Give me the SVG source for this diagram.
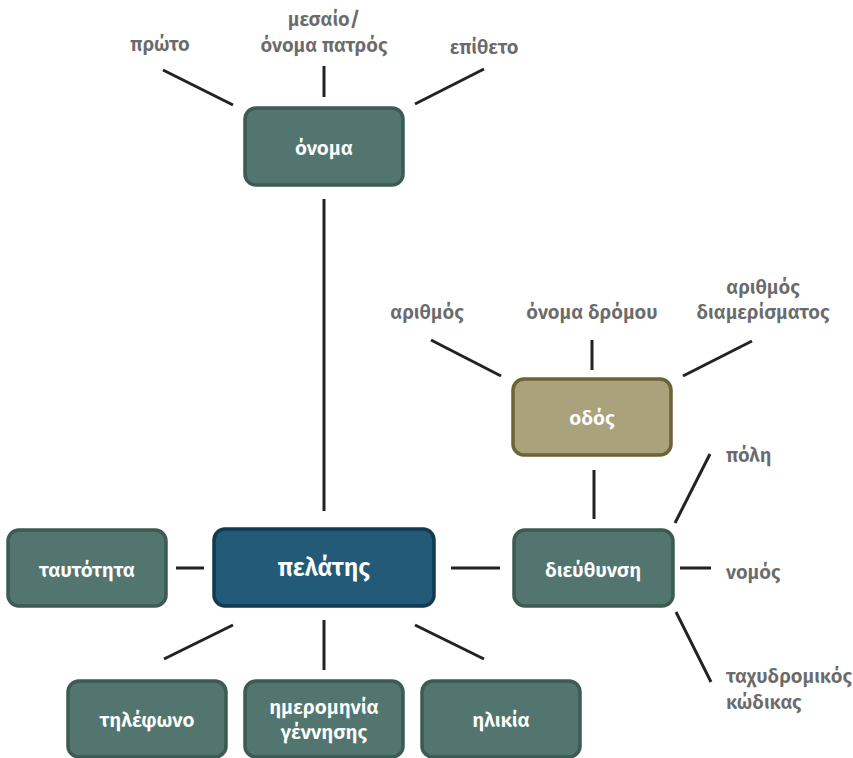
<svg xmlns="http://www.w3.org/2000/svg" width="853" height="758" viewBox="0 0 853 758">
  <style>
    .box { fill: #52766f; stroke: #3d5a53; stroke-width: 3.5; }
    .box-street { fill: #a9a27a; stroke: #6b6436; stroke-width: 3.5; }
    .box-main { fill: #235a78; stroke: #123b52; stroke-width: 3.5; }
    .node-text { font-family: "Fira Sans", "Open Sans", "Noto Sans", sans-serif; font-weight: 600; font-size: 20.5px; fill: #ffffff; text-anchor: middle; dominant-baseline: central; }
    .main-text { font-size: 25px; }
    .label { font-family: "Fira Sans", "Open Sans", "Noto Sans", sans-serif; font-weight: 600; font-size: 20px; fill: #6b6b6b; dominant-baseline: central; }
    .mid { text-anchor: middle; }
    .conn line { stroke: #222222; stroke-width: 3; }
  </style>

  <!-- connectors -->
  <g id="connectors" class="conn">
    <line x1="163" y1="70" x2="233" y2="105"/>
    <line x1="324" y1="66" x2="324" y2="97"/>
    <line x1="415" y1="104" x2="484" y2="69"/>
    <line x1="324" y1="199" x2="324" y2="511"/>
    <line x1="176" y1="568" x2="204" y2="568"/>
    <line x1="451" y1="568" x2="500" y2="568"/>
    <line x1="233" y1="625" x2="164" y2="659"/>
    <line x1="324" y1="620" x2="324" y2="670"/>
    <line x1="415" y1="625" x2="484" y2="659"/>
    <line x1="431" y1="340" x2="501" y2="376"/>
    <line x1="592" y1="340" x2="592" y2="370"/>
    <line x1="683" y1="376" x2="752" y2="341"/>
    <line x1="594" y1="470" x2="594" y2="519"/>
    <line x1="675" y1="523" x2="710" y2="454"/>
    <line x1="680" y1="568" x2="711" y2="568"/>
    <line x1="676" y1="612" x2="711" y2="682"/>
  </g>

  <!-- nodes -->
  <g id="onoma">
    <rect class="box" x="245" y="108" width="158" height="77" rx="11"/>
    <text class="node-text" x="324" y="148">όνομα</text>
  </g>
  <g id="pelatis">
    <rect class="box-main" x="214" y="529" width="220" height="77" rx="11"/>
    <text class="node-text main-text" x="324" y="568">πελάτης</text>
  </g>
  <g id="taftotita">
    <rect class="box" x="8" y="530" width="158" height="76" rx="11"/>
    <text class="node-text" x="87" y="570">ταυτότητα</text>
  </g>
  <g id="dieuthynsi">
    <rect class="box" x="514" y="530" width="159" height="76" rx="11"/>
    <text class="node-text" x="593" y="570">διεύθυνση</text>
  </g>
  <g id="odos">
    <rect class="box-street" x="513" y="379" width="158" height="76" rx="11"/>
    <text class="node-text" x="592" y="418">οδός</text>
  </g>
  <g id="tilefono">
    <rect class="box" x="68" y="681" width="158" height="76" rx="11"/>
    <text class="node-text" x="147" y="720">τηλέφωνο</text>
  </g>
  <g id="imerominia">
    <rect class="box" x="245" y="681" width="158" height="76" rx="11"/>
    <text class="node-text" x="324" y="707">ημερομηνία</text>
    <text class="node-text" x="324" y="732">γέννησης</text>
  </g>
  <g id="ilikia">
    <rect class="box" x="422" y="681" width="158" height="76" rx="11"/>
    <text class="node-text" x="501" y="720">ηλικία</text>
  </g>

  <!-- attribute labels -->
  <g id="labels">
    <text class="label mid" x="160" y="44">πρώτο</text>
    <text class="label mid" x="324" y="19">μεσαίο/</text>
    <text class="label mid" x="324" y="45">όνομα πατρός</text>
    <text class="label mid" x="484" y="47">επίθετο</text>
    <text class="label mid" x="427" y="312">αριθμός</text>
    <text class="label mid" x="592" y="312">όνομα δρόμου</text>
    <text class="label mid" x="763" y="287">αριθμός</text>
    <text class="label mid" x="763" y="312">διαμερίσματος</text>
    <text class="label" x="726" y="455">πόλη</text>
    <text class="label" x="726" y="572">νομός</text>
    <text class="label" x="726" y="676">ταχυδρομικός</text>
    <text class="label" x="726" y="702">κώδικας</text>
  </g>
</svg>
